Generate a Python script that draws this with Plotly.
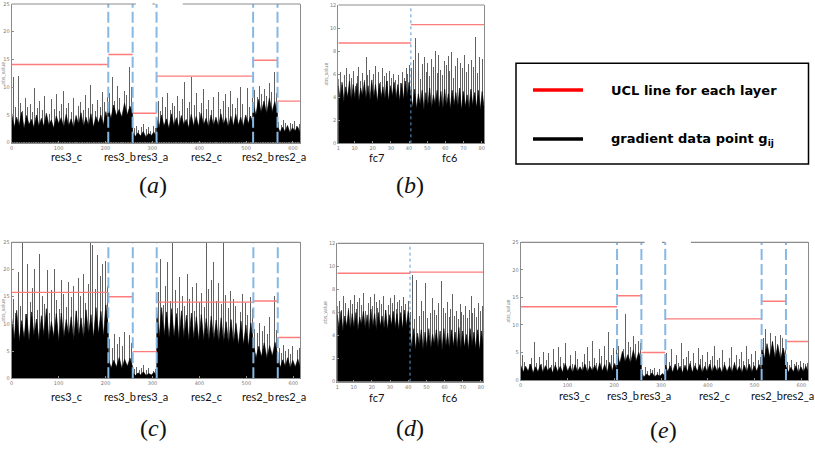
import numpy as np
import plotly.graph_objects as go

W, H = 815, 449

# ---------------- categories / ticks ----------------
RES_LAYERS = ["res3_c", "res3_b", "res3_a", "res2_c", "res2_b", "res2_a"]
RES_BOUNDS = [0, 206, 258, 309, 515, 567, 615]
FC_LAYERS = ["fc7", "fc6"]
FC_BOUNDS = [1, 41, 81.3]

RES_XTICKS = [0, 100, 200, 300, 400, 500, 600]
RES_YTICKS = [0, 5, 10, 15, 20, 25]
FC_XTICKS = [1, 10, 20, 30, 40, 50, 60, 70, 80]
FC_YTICKS = [0, 2, 4, 6, 8, 10, 12]

# ---------------- UCL per layer ----------------
UCL_A = [14.1, 15.9, 5.3, 12.0, 14.85, 7.5]
UCL_B = [8.7, 10.3]
UCL_C = [15.8, 15.0, 4.9, 14.0, 14.2, 7.5]
UCL_D = [9.4, 9.5]
UCL_E = [13.3, 15.3, 5.0, 11.1, 14.3, 7.0]

# ---------------- gradient peaks ----------------
A_PEAKS = [
    [11.8, 6.5, 12.0, 7.2, 5.8, 8.1, 6.4, 7.0, 5.5, 9.8, 6.2, 7.5, 5.9, 8.4, 6.8, 5.2, 7.9, 6.1, 8.8, 5.7,
     6.9, 9.4, 6.3, 7.1, 5.6, 8.0, 11.3, 6.6, 7.4, 5.9, 8.6, 6.2, 10.4, 7.0, 5.8, 7.7, 6.4, 9.1, 7.3, 8.2],
    [9.0, 11.9, 7.5, 10.2, 8.1, 12.1, 9.4, 8.6, 13.7, 10.0],
    [2.6, 3.1, 2.2, 2.8, 3.3, 2.4, 2.9, 2.1, 3.0, 2.7],
    [7.5, 5.8, 8.2, 6.4, 9.0, 5.9, 7.1, 6.6, 8.5, 5.7, 7.8, 11.0, 6.3, 7.4, 11.9, 6.8, 8.9, 5.6, 7.2, 9.6,
     6.1, 7.7, 5.9, 8.3, 6.7, 9.2, 6.0, 7.5, 8.8, 6.4, 9.4, 7.0, 6.2, 8.1, 10.0, 6.9, 7.6, 9.9, 6.5, 8.0],
    [9.5, 8.2, 10.3, 8.8, 9.7, 8.4, 10.8, 9.1, 12.8, 9.0],
    [3.8, 3.2, 4.1, 3.5, 3.0, 3.6, 3.3, 3.9, 3.1, 3.4],
]
A_CORE = [
    [5.2, 2.8, 4.6, 3.1, 5.5, 2.6, 4.9, 3.3, 4.2, 2.7, 5.0, 3.0, 4.4, 2.9, 5.3, 3.2, 4.1, 2.6, 4.8, 3.4,
     4.5, 2.8, 5.1, 3.0, 4.3, 2.7, 4.9, 3.3, 5.4, 2.9, 4.6, 3.1, 5.2, 2.8, 4.7, 3.5, 5.0, 3.2, 5.6, 3.6],
    [6.2, 4.4, 6.8, 4.9, 6.0, 4.6, 7.1, 5.0, 6.6, 5.4],
    [1.9, 1.1, 1.8, 1.2, 2.0, 1.0, 1.7, 1.3, 1.9, 1.2],
    [4.6, 2.7, 5.0, 3.0, 4.3, 2.6, 5.2, 3.1, 4.5, 2.8, 4.9, 3.3, 4.2, 2.7, 5.1, 3.0, 4.7, 2.9, 5.3, 3.2,
     4.4, 2.8, 5.0, 3.1, 4.6, 2.9, 5.2, 3.3, 4.5, 2.8, 4.8, 3.0, 5.1, 3.2, 4.6, 2.9, 5.0, 3.4, 4.8, 3.1],
    [7.2, 5.0, 7.8, 5.4, 7.5, 5.2, 8.0, 5.6, 7.4, 5.3],
    [3.0, 1.9, 2.8, 2.0, 3.1, 1.8, 2.7, 2.1, 2.9, 1.9],
]

B_PEAKS = [
    [5.6, 6.2, 5.1, 5.9, 6.5, 5.3, 6.0, 5.7, 6.3, 5.0, 5.8, 6.6, 5.4, 6.1, 5.5, 7.5, 5.9, 6.4, 5.2, 6.0,
     6.7, 5.6, 6.2, 5.3, 6.5, 5.8, 6.1, 5.4, 6.3, 5.7, 6.0, 5.5, 6.4, 5.9, 5.2, 6.2, 5.7, 6.5, 6.0, 6.8],
    [6.5, 7.2, 9.1, 6.0, 7.8, 5.6, 6.9, 7.5, 6.2, 7.0, 5.8, 7.3, 6.6, 8.0, 6.1, 7.7, 6.4, 5.9, 7.1, 6.8,
     7.6, 6.3, 7.9, 5.7, 6.7, 7.4, 6.0, 7.0, 6.5, 7.7, 6.2, 6.9, 5.8, 7.2, 6.6, 9.2, 6.1, 7.5, 6.9, 7.3],
]
B_CORE = [
    [5.0, 3.8, 5.3, 3.6, 4.9, 4.0, 5.4, 3.7, 5.1, 3.9, 5.2, 3.6, 4.8, 4.1, 5.3, 3.8, 5.0, 3.7, 5.5, 3.9,
     5.1, 3.6, 5.2, 4.0, 4.9, 3.8, 5.4, 3.7, 5.0, 4.1, 5.3, 3.9, 5.1, 3.7, 5.2, 3.8, 5.4, 4.0, 5.3, 4.2],
    [4.5, 3.1, 4.7, 3.0, 4.3, 3.3, 4.6, 2.9, 4.4, 3.2, 4.8, 3.0, 4.2, 3.4, 4.6, 3.1, 4.5, 2.9, 4.7, 3.2,
     4.3, 3.0, 4.6, 3.3, 4.4, 3.1, 4.8, 2.9, 4.5, 3.2, 4.2, 3.0, 4.7, 3.3, 4.4, 3.1, 4.6, 2.9, 4.5, 3.2],
]

C_PEAKS = [
    [14.5, 12.0, 19.5, 13.2, 25, 11.8, 20.9, 14.0, 16.5, 20.0, 12.5, 22.8, 15.1, 13.6, 19.8, 11.9, 16.2, 20.0, 14.4, 12.7,
     18.0, 15.5, 13.1, 17.6, 14.8, 16.9, 12.3, 18.3, 15.0, 19.1, 13.7, 17.2, 25, 24.5, 16.4, 22.7, 18.8, 20.9, 21.5, 17.0],
    [7.2, 5.5, 8.1, 6.3, 7.6, 5.8, 8.4, 6.9, 7.9, 6.5],
    [1.6, 2.1, 1.4, 1.9, 2.3, 1.5, 1.8, 2.0, 1.3, 1.7],
    [15.8, 21.9, 13.5, 17.0, 21.3, 14.2, 25, 16.1, 12.8, 18.5, 15.0, 13.3, 19.2, 14.6, 16.8, 12.4, 17.5, 14.0, 15.7, 13.0,
     25, 16.3, 18.0, 21.3, 14.1, 17.4, 13.6, 25, 15.2, 12.9, 16.0, 14.5, 13.2, 17.2, 12.1, 15.4, 13.8, 11.6, 14.9, 12.6],
    [9.0, 8.2, 10.1, 8.7, 9.5, 8.0, 11.2, 9.3, 15.0, 8.8],
    [5.5, 4.6, 6.0, 4.9, 5.3, 4.4, 5.8, 4.7, 5.1, 5.6],
]
C_CORE = [
    [11.0, 7.2, 12.5, 6.8, 10.6, 7.5, 11.8, 6.9, 12.2, 7.8, 10.9, 7.0, 11.5, 8.0, 12.8, 7.1, 10.4, 7.6, 11.9, 6.8,
     12.0, 7.4, 10.8, 7.9, 11.3, 6.9, 12.4, 7.7, 11.1, 7.2, 12.6, 8.1, 11.7, 7.5, 13.0, 8.2, 12.3, 7.8, 13.5, 8.6],
    [3.6, 1.9, 3.3, 2.1, 3.8, 1.8, 3.5, 2.2, 3.7, 2.0],
    [1.1, 0.5, 1.0, 0.6, 1.2, 0.5, 0.9, 0.6, 1.1, 0.5],
    [12.5, 7.6, 13.0, 7.9, 12.2, 7.4, 12.8, 7.7, 11.9, 7.2, 12.4, 7.5, 11.6, 7.0, 12.0, 7.3, 11.3, 6.9, 11.7, 7.1,
     11.0, 6.7, 11.4, 6.9, 10.7, 6.5, 11.1, 6.6, 10.4, 6.3, 10.8, 6.4, 10.1, 6.1, 10.5, 6.2, 9.8, 5.9, 10.2, 6.0],
    [6.2, 3.8, 5.9, 4.0, 6.5, 3.7, 6.0, 4.1, 6.6, 4.2],
    [3.6, 2.0, 3.4, 2.2, 3.8, 1.9, 3.3, 2.1, 3.5, 2.0],
]

D_PEAKS = [
    [6.5, 7.0, 6.2, 7.4, 6.8, 7.8, 6.4, 7.1, 6.7, 7.5, 6.3, 6.9, 7.2, 6.6, 7.7, 6.1, 7.0, 6.8, 7.3, 6.5,
     7.6, 6.9, 6.4, 7.1, 6.7, 7.4, 6.2, 7.0, 6.6, 7.2, 6.8, 7.5, 6.3, 6.9, 7.1, 6.5, 7.3, 6.7, 7.6, 7.0],
    [6.0, 9.2, 5.4, 8.8, 6.3, 5.7, 7.0, 6.1, 8.5, 5.5, 6.6, 5.9, 7.2, 6.2, 5.8, 6.8, 5.5, 8.7, 6.4, 5.9,
     6.9, 5.6, 6.3, 7.6, 5.7, 6.1, 5.4, 6.7, 6.0, 5.8, 6.5, 5.5, 6.2, 7.4, 5.9, 6.4, 5.6, 6.8, 6.1, 6.5],
]
D_CORE = [
    [5.8, 4.6, 6.1, 4.4, 5.7, 4.8, 6.2, 4.5, 5.9, 4.7, 6.0, 4.4, 5.6, 4.9, 6.1, 4.6, 5.8, 4.5, 6.3, 4.7,
     5.9, 4.4, 6.0, 4.8, 5.7, 4.6, 6.2, 4.5, 5.8, 4.9, 6.1, 4.7, 5.9, 4.5, 6.0, 4.6, 6.2, 4.8, 6.1, 5.0],
    [4.4, 2.9, 4.6, 2.8, 4.2, 3.1, 4.5, 2.7, 4.3, 3.0, 4.6, 2.8, 4.1, 3.2, 4.5, 2.9, 4.4, 2.7, 4.6, 3.0,
     4.2, 2.8, 4.5, 3.1, 4.3, 2.9, 4.7, 2.7, 4.4, 3.0, 4.1, 2.8, 4.6, 3.1, 4.3, 2.9, 4.5, 2.7, 4.4, 3.0],
]

E_PEAKS = [
    [4.5, 3.2, 5.6, 2.8, 3.9, 6.8, 3.1, 4.2, 2.9, 5.0, 3.5, 4.8, 2.7, 5.6, 3.3, 6.0, 4.1, 3.0, 6.7, 3.6,
     4.4, 2.9, 5.3, 3.8, 6.4, 3.2, 4.6, 5.9, 3.4, 7.0, 4.0, 3.1, 5.5, 4.3, 6.2, 3.6, 8.6, 4.5, 5.8, 7.4],
    [6.2, 7.8, 5.5, 11.9, 6.8, 5.9, 8.0, 6.4, 7.1, 6.6],
    [1.8, 2.3, 1.5, 2.0, 1.7, 2.2, 1.4, 1.9, 2.4, 1.6],
    [4.8, 3.3, 5.6, 3.9, 4.4, 3.0, 6.7, 3.7, 4.2, 5.3, 3.4, 4.9, 3.1, 5.8, 3.8, 4.5, 3.2, 5.1, 3.6, 4.3,
     6.2, 3.5, 4.0, 5.4, 3.3, 4.7, 3.9, 5.9, 3.2, 4.4, 3.7, 5.0, 3.4, 6.1, 3.8, 4.6, 3.3, 5.2, 3.6, 4.1],
    [7.5, 9.2, 6.8, 8.4, 7.1, 8.0, 6.5, 8.1, 7.6, 6.9],
    [3.2, 2.7, 3.5, 2.9, 3.3, 2.6, 3.4, 3.0, 2.8, 3.1],
]
E_CORE = [
    [2.7, 1.4, 2.5, 1.6, 2.9, 1.3, 2.4, 1.5, 2.8, 1.4, 2.6, 1.7, 2.3, 1.3, 2.7, 1.5, 2.5, 1.4, 3.0, 1.6,
     2.6, 1.3, 2.8, 1.5, 2.4, 1.6, 2.9, 1.4, 2.5, 1.7, 2.7, 1.5, 3.1, 1.6, 2.8, 1.4, 3.2, 1.7, 3.0, 1.8],
    [4.8, 3.0, 5.2, 3.3, 4.6, 3.1, 5.4, 3.4, 5.0, 3.6],
    [1.2, 0.6, 1.1, 0.7, 1.3, 0.6, 1.0, 0.7, 1.2, 0.6],
    [2.8, 1.5, 2.6, 1.4, 2.9, 1.6, 2.5, 1.3, 2.7, 1.5, 3.0, 1.4, 2.6, 1.6, 2.8, 1.3, 2.5, 1.5, 2.9, 1.4,
     2.7, 1.6, 2.4, 1.3, 2.8, 1.5, 2.6, 1.4, 3.0, 1.6, 2.5, 1.3, 2.7, 1.5, 2.9, 1.4, 2.6, 1.6, 2.8, 1.5],
    [6.0, 3.8, 6.6, 4.1, 6.9, 4.0, 6.3, 3.7, 5.8, 3.5],
    [2.5, 1.4, 2.3, 1.5, 2.6, 1.3, 2.4, 1.5, 2.5, 1.4],
]

# ---------------- styling ----------------
AXIS_GREY = "#8c8c8c"
TICK_FONT = dict(size=5, color="#7a7a7a", family="DejaVu Sans")
UCL_COLOR = "#ff7c7c"
DASH_BLUE = "#86b8e4"
LABEL_FONT = dict(family="Lato", size=11, color="#111111")
LETTER_FONT = dict(family="Liberation Serif", size=24, color="#111111")


def fx(px):
    return px / W


def fy(py):
    return 1 - py / H


PANELS = [
    dict(n=1, kind="res", xpx=(11.7, 300), ypx=(4, 142.7), peaks=A_PEAKS, core=A_CORE, ucl=UCL_A,
         top=[(0, 265), (300, 306), (365, 615)],
         labels_px=[66, 120, 152.5, 206, 258, 290.5], label_y=156.5, letter="a", letter_xy=(153, 185)),
    dict(n=2, kind="fc", xpx=(338.3, 484), ypx=(5, 143.3), peaks=B_PEAKS, core=B_CORE, ucl=UCL_B,
         top=[(1, 81.3)], labels_px=[376, 449], label_y=158, letter="b", letter_xy=(410, 185)),
    dict(n=3, kind="res", xpx=(11.7, 300.3), ypx=(242.3, 378.3), peaks=C_PEAKS, core=C_CORE, ucl=UCL_C,
         top=[(0, 615)],
         labels_px=[66, 120, 152.5, 206, 258, 290.5], label_y=396, letter="c", letter_xy=(153, 428)),
    dict(n=4, kind="fc", xpx=(337.3, 483.3), ypx=(243.3, 381.7), peaks=D_PEAKS, core=D_CORE, ucl=UCL_D,
         top=[(1, 81.3)], labels_px=[376, 449], label_y=397, letter="d", letter_xy=(410, 428)),
    dict(n=5, kind="res", xpx=(520.7, 808.4), ypx=(242.3, 380), peaks=E_PEAKS, core=E_CORE, ucl=UCL_E,
         top=[(0, 265), (302, 308), (364, 615)],
         labels_px=[574, 623, 655, 714, 767, 798.5], label_y=395, letter="e", letter_xy=(663, 430)),
]

fig = go.Figure()
layout = dict(width=W, height=H, margin=dict(l=0, r=0, t=0, b=0, autoexpand=False), paper_bgcolor="white",
              plot_bgcolor="white", showlegend=False, barmode="overlay", bargap=0)
shapes = []
annotations = []

for p in PANELS:
    n = p["n"]
    sfx = "" if n == 1 else str(n)
    xref, yref = "x" + sfx, "y" + sfx
    if p["kind"] == "res":
        bounds, layers = RES_BOUNDS, RES_LAYERS
        xticks, yticks, yrange = RES_XTICKS, RES_YTICKS, [0, 25]
        bar_w = 2.0
        dash = dict(color=DASH_BLUE, width=2, dash="11px,4px")
    else:
        bounds, layers = FC_BOUNDS, FC_LAYERS
        xticks, yticks, yrange = FC_XTICKS, FC_YTICKS, [0, 12]
        bar_w = 0.5
        dash = dict(color="#5b9bd5", width=1, dash="dot")

    # dense core of gradient values
    cx, cy = [], []
    for i, vals in enumerate(p["core"]):
        xs = np.linspace(bounds[i], bounds[i + 1], len(vals))
        cx += list(xs)
        cy += list(vals)
    fig.add_trace(go.Scatter(x=cx, y=cy, mode="lines", fill="tozeroy", fillcolor="black",
                             line=dict(color="black", width=0.6), xaxis=xref, yaxis=yref,
                             hoverinfo="skip"))
    # individual spikes
    sx, sy = [], []
    for i, vals in enumerate(p["peaks"]):
        step = (bounds[i + 1] - bounds[i]) / len(vals)
        sx += [bounds[i] + (k + 0.5) * step for k in range(len(vals))]
        sy += list(vals)
    fig.add_trace(go.Bar(x=sx, y=sy, width=bar_w, marker=dict(color="rgba(0,0,0,0.62)", line=dict(width=0)),
                         xaxis=xref, yaxis=yref, hoverinfo="skip"))
    # UCL lines
    ux, uy = [], []
    for i, u in enumerate(p["ucl"]):
        ux += [bounds[i], bounds[i + 1], None]
        uy += [u, u, None]
    fig.add_trace(go.Scatter(x=ux, y=uy, mode="lines", line=dict(color=UCL_COLOR, width=1.4),
                             xaxis=xref, yaxis=yref, hoverinfo="skip"))

    # layer separators
    for b in bounds[1:-1]:
        shapes.append(dict(type="line", xref=xref, yref=yref + " domain", x0=b, x1=b, y0=0, y1=1, line=dash))
    # top border (with gaps as rendered)
    for (a, b) in p["top"]:
        shapes.append(dict(type="line", xref=xref, yref=yref + " domain", x0=a, x1=b, y0=1, y1=1,
                           line=dict(color=AXIS_GREY, width=1.2)))

    x0, x1 = p["xpx"]
    ytop, ybot = p["ypx"]
    layout["xaxis" + sfx] = dict(domain=[fx(x0), fx(x1)], range=[bounds[0], bounds[-1]], anchor=yref,
                                 showline=True, linecolor=AXIS_GREY, linewidth=1, ticks="inside", ticklen=2,
                                 tickcolor=AXIS_GREY, tickvals=xticks, tickfont=TICK_FONT, showgrid=False,
                                 zeroline=False, fixedrange=True, automargin=False)
    layout["yaxis" + sfx] = dict(domain=[fy(ybot), fy(ytop)], range=yrange, anchor=xref,
                                 showline=True, mirror=True, linecolor=AXIS_GREY, linewidth=1, ticks="inside",
                                 ticklen=2, tickcolor=AXIS_GREY, tickvals=yticks, tickfont=TICK_FONT,
                                 showgrid=False, zeroline=False, fixedrange=True, automargin=False,
                                 title=dict(text="abs_value", font=dict(size=5, color="#7a7a7a"), standoff=1))

    for name, lx in zip(layers, p["labels_px"]):
        annotations.append(dict(text=name, x=fx(lx), y=fy(p["label_y"]), xref="paper", yref="paper",
                                showarrow=False, xanchor="center", yanchor="middle", font=LABEL_FONT,
                                borderpad=0))
    lx, ly = p["letter_xy"]
    annotations.append(dict(text="(<i>%s</i>)" % p["letter"], x=fx(lx), y=fy(ly), xref="paper", yref="paper",
                            showarrow=False, xanchor="center", yanchor="middle", font=LETTER_FONT))

# legend box
shapes.append(dict(type="rect", xref="paper", yref="paper", x0=fx(516), x1=fx(808.5), y0=fy(164), y1=fy(63.3),
                   line=dict(color="black", width=1.5), fillcolor="rgba(0,0,0,0)"))
shapes.append(dict(type="line", xref="paper", yref="paper", x0=fx(533), x1=fx(583), y0=fy(90), y1=fy(90),
                   line=dict(color="#ff0000", width=3.5)))
shapes.append(dict(type="line", xref="paper", yref="paper", x0=fx(533), x1=fx(583), y0=fy(139), y1=fy(139),
                   line=dict(color="black", width=3.5)))
LEG_FONT = dict(family="DejaVu Sans", size=13, color="black")
annotations.append(dict(text="<b>UCL line for each layer</b>", x=fx(609), y=fy(90), xref="paper", yref="paper",
                        showarrow=False, xanchor="left", yanchor="middle", font=LEG_FONT))
annotations.append(dict(text="<b>gradient data point g<sub>ij</sub></b>", x=fx(609), y=fy(139), xref="paper",
                        yref="paper", showarrow=False, xanchor="left", yanchor="middle", font=LEG_FONT))

layout["shapes"] = shapes
layout["annotations"] = annotations
fig.update_layout(**layout)
fig.write_html("out.html", config={"displayModeBar": False},
               post_script="document.body.style.margin='0';document.body.style.overflow='hidden';")
